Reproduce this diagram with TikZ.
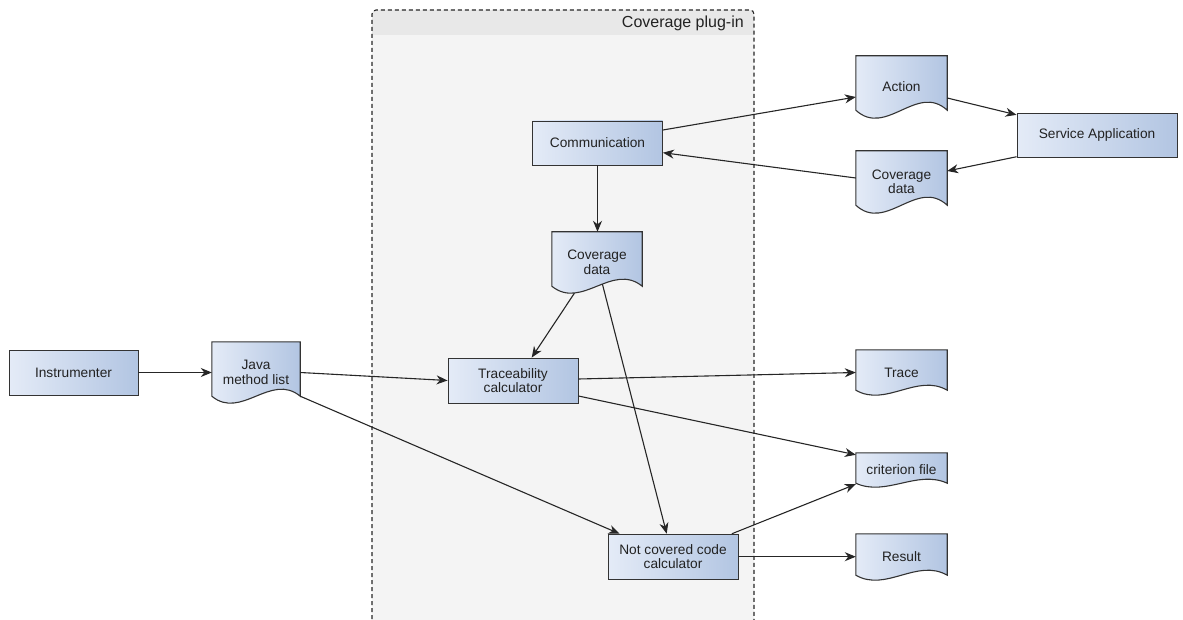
\documentclass[tikz,border=0pt]{standalone}
\usepackage{fontspec}
\setmainfont{Liberation Sans}
\usetikzlibrary{arrows.meta,calc,backgrounds}

\definecolor{boxL}{RGB}{228,235,247}
\definecolor{boxR}{RGB}{178,197,226}
\definecolor{edgeC}{RGB}{51,51,51}
\definecolor{poolBody}{RGB}{244,244,244}
\definecolor{poolHead}{RGB}{232,232,232}
\definecolor{txt}{RGB}{34,34,34}

\newcommand\nodefont{\fontsize{13.7}{14.5}\selectfont}

\tikzset{
  proc/.style={draw=edgeC, line width=0.9pt, left color=boxL, right color=boxR,
    font=\nodefont, text=txt, align=center, inner sep=0pt},
  docbox/.style={font=\nodefont, text=txt, align=center, inner sep=0pt},
  docshape/.style={draw=edgeC, line width=1.1pt, left color=boxL, right color=boxR},
  flow/.style={draw=black!85, line width=1.1pt,
    -{Stealth[length=11pt,width=9pt,inset=3.5pt]}},
  pool/.style={draw=black!85, line width=1.1pt, dash pattern=on 4pt off 3pt},
}

\begin{document}
\begin{tikzpicture}[x=1pt,y=-1pt]
\useasboundingbox (0,0) rectangle (1183,620);
\clip (0,0) rectangle (1183,620);

% plug-in container with its title band
\begin{scope}[on background layer]
  \fill[poolBody, rounded corners=4pt] (372,10) rectangle (754,640);
  \fill[poolHead, rounded corners=4pt] (372,10) rectangle (754,35);
  \fill[poolHead] (372,20) rectangle (754,35);
  \draw[pool, rounded corners=4pt] (372,640) -- (372,10) -- (754,10) -- (754,640);
\end{scope}
\node[font=\fontsize{16}{18}\selectfont, text=txt, anchor=east, inner sep=0pt]
  (plugtitle) at (744,23) {Coverage plug-in};

% process boxes
\node[proc, minimum width=129pt, minimum height=45pt] (instr) at (73.5,372.5) {Instrumenter};
\node[proc, minimum width=130pt, minimum height=44pt] (comm) at (597.5,143) {Communication};
\node[proc, minimum width=130pt, minimum height=45pt] (tcalc) at (513,380.5) {Traceability\\calculator};
\node[proc, minimum width=130pt, minimum height=45pt] (notcov) at (673,556.7) {Not covered code\\calculator};
\node[proc, minimum width=160pt, minimum height=44pt] (service) at (1097,135.3) {Service Application};

% documents (outline drawn below)
\node[docbox, minimum width=88pt, minimum height=61pt] (java) at (256,372.5) {Java\\method list};
\node[docbox, minimum width=91pt, minimum height=62pt] (action) at (901.5,87) {Action};
\node[docbox, minimum width=91pt, minimum height=62pt] (covR) at (901.5,182) {Coverage\\data};
\node[docbox, minimum width=90pt, minimum height=61pt] (covI) at (597,262.5) {Coverage\\data};
\node[docbox, minimum width=91pt, minimum height=45pt] (trace) at (901.5,372.5) {Trace};
\node[docbox, minimum width=91pt, minimum height=34pt] (crit) at (901.5,470) {criterion file};
\node[docbox, minimum width=91pt, minimum height=46pt] (result) at (901.5,557) {Result};

% document outlines with wavy bottom edge
\begin{scope}[on background layer]
\foreach \n/\a in {java/7, action/8, covR/8, covI/7, trace/5, crit/4, result/5}{
  \path[docshape] (\n.north west) -- (\n.north east) -- ($(\n.south east)+(0,-\a)$)
    .. controls ($(\n.south east)!0.33!(\n.south west)+(0,-4.46*\a)$)
       and ($(\n.south east)!0.67!(\n.south west)+(0,2.46*\a)$)
    .. ($(\n.south west)+(0,-\a)$) -- cycle;
}
\end{scope}

% connectors
\draw[flow] (instr.east) -- (instr.east -| java.west);
\draw[flow] (java.east) -- (tcalc.west);
\draw[flow] ($(java.south east)+(0,-7)$) -- ($(notcov.north west)+(12,0)$);
\draw[flow] ($(comm.east)+(0,-13)$) -- ($(action.west)+(0,10)$);
\draw[flow] ($(action.east)+(0,11)$) -- ($(service.north west)+(0,2)$);
\draw[flow] ($(service.south west)+(0,-1)$) -- ($(covR.east)+(0,-11)$);
\draw[flow] ($(covR.west)+(0,-4)$) -- ($(comm.east)+(0,9.7)$);
\draw[flow] (comm.south) -- (comm.south |- covI.north);
\draw[flow] ($(covI.south west)!0.25!(covI.south east)$) -- ($(tcalc.north)+(18.7,0)$);
\draw[flow] ($(covI.south west)!0.56!(covI.south east)+(0,-9)$) -- ($(notcov.north)+(-6.3,0)$);
\draw[flow] ($(tcalc.east)+(0,-1.5)$) -- (trace.west);
\draw[flow] ($(tcalc.east)+(0,15.5)$) -- ($(crit.north west)+(0,2)$);
\draw[flow] ($(notcov.north east)+(-6.6,0)$) -- ($(crit.south west)+(0,-3)$);
\draw[flow] (notcov.east) -- (notcov.east -| result.west);
\end{tikzpicture}
\end{document}
